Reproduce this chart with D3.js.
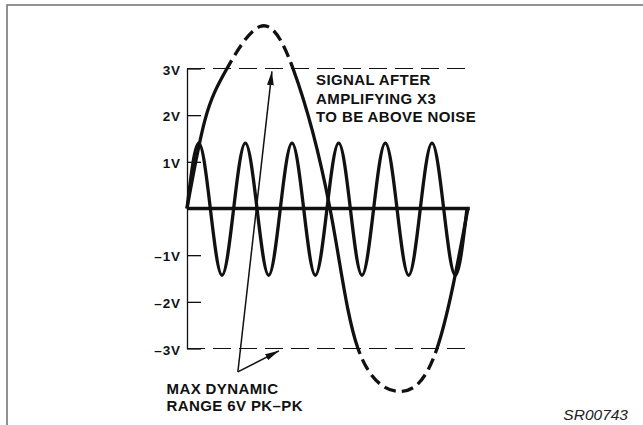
<!DOCTYPE html>
<html>
<head>
<meta charset="utf-8">
<script src="https://cdn.jsdelivr.net/npm/d3@7"></script>
<style>
  body { margin: 0; background: #fff; }
  svg { display: block; }
</style>
</head>
<body>
<svg id="chart" width="643" height="425"></svg>
<script>
var w = 643;
var h = 425;

// time in units of one small-wave cycle
var smallT = [0, 0.25, 0.5, 0.75, 1, 1.25, 1.5, 1.75, 2, 2.25, 2.5, 2.75, 3,
  3.25, 3.5, 3.75, 4, 4.25, 4.5, 4.75, 5, 5.25, 5.5, 5.75, 6];
var smallV = [0, 1.4, 0, -1.43, 0, 1.4, 0, -1.43, 0, 1.4, 0, -1.43, 0,
  1.4, 0, -1.43, 0, 1.4, 0, -1.43, 0, 1.4, 0, -1.43, 0];

// amplified signal
var bigT = [0, 0.386, 0.857, 1.564, 2.271, 3.064, 3.664, 4.564, 5.357, 6.02];
var bigV = [0, 1.9, 3, 3.9, 3, 0, -3, -3.92, -3, 0];

var tickVals = [3, 2, 1, -1, -2, -3];
var rangeLimits = [3, -3];
var noteLines = ["SIGNAL AFTER", "AMPLIFYING X3", "TO BE ABOVE NOISE"];
var rangeLines = ["MAX DYNAMIC", "RANGE 6V PK\u2013PK"];
var arrowBase = [1.09, -3.5];
var arrowTips = [[1.82, 2.94], [1.97, -3.05]];
var figId = "SR00743";

var svg = d3.select("#chart");
var ink = "#111";

var xScale = d3.scaleLinear().domain([0, 6]).range([187, 467]);
var yScale = d3.scaleLinear().domain([-3, 3]).range([348.5, 68.5]);

// outer frame
svg.append("rect")
  .attr("x", 7).attr("y", 5)
  .attr("width", w).attr("height", h)
  .attr("fill", "none")
  .attr("stroke", "#777")
  .attr("stroke-width", 1.6);

// clip areas: inside / outside the +-3V range
var defs = svg.append("defs");
defs.append("clipPath").attr("id", "inside")
  .append("rect")
  .attr("x", 0).attr("y", yScale(3))
  .attr("width", w).attr("height", yScale(-3) - yScale(3));
var outside = defs.append("clipPath").attr("id", "outside");
outside.append("rect").attr("x", 0).attr("y", 0)
  .attr("width", w).attr("height", yScale(3));
outside.append("rect").attr("x", 0).attr("y", yScale(-3))
  .attr("width", w).attr("height", h - yScale(-3));

defs.append("marker")
  .attr("id", "head")
  .attr("viewBox", "0 0 14 8")
  .attr("refX", 14).attr("refY", 4)
  .attr("markerWidth", 14).attr("markerHeight", 8)
  .attr("markerUnits", "userSpaceOnUse")
  .attr("orient", "auto")
  .append("path")
  .attr("d", "M0,0.6L14,4L0,7.4Z")
  .attr("fill", ink);

// y axis
var yAxis = d3.axisLeft(yScale)
  .tickValues(tickVals)
  .tickSizeInner(-14)
  .tickSizeOuter(0)
  .tickPadding(6)
  .tickFormat(function (d) {
    return (d < 0 ? "\u2013" : "") + Math.abs(d) + "V";
  });

var gy = svg.append("g")
  .attr("transform", "translate(" + xScale(0) + ",0)")
  .call(yAxis);
gy.select(".domain").attr("stroke", ink).attr("stroke-width", 1.3);
gy.selectAll(".tick line").attr("stroke", ink).attr("stroke-width", 1.3);
gy.selectAll(".tick text")
  .attr("fill", ink)
  .attr("dy", "0.42em")
  .style("font-family", "'Liberation Sans', Arial, sans-serif")
  .style("font-weight", "bold")
  .style("font-size", "13.5px")
  .style("letter-spacing", "0.9px");

// dashed limit lines
svg.selectAll("line.limit")
  .data(rangeLimits)
  .join("line")
  .attr("class", "limit")
  .attr("x1", xScale(0))
  .attr("x2", 473)
  .attr("y1", function (d) { return yScale(d); })
  .attr("y2", function (d) { return yScale(d); })
  .attr("stroke", ink)
  .attr("stroke-width", 1.2)
  .attr("stroke-dasharray", "18,8");

// zero line
svg.append("line")
  .attr("x1", xScale(0)).attr("x2", xScale(6.06))
  .attr("y1", yScale(0)).attr("y2", yScale(0))
  .attr("stroke", ink)
  .attr("stroke-width", 3.3);

var smallData = smallT.map(function (t, i) { return { t: t, v: smallV[i] }; });
var bigData = bigT.map(function (t, i) { return { t: t, v: bigV[i] }; });

var smallLine = d3.line()
  .x(function (d) { return xScale(d.t); })
  .y(function (d) { return yScale(d.v); })
  .curve(d3.curveNatural);

var bigLine = d3.line()
  .x(function (d) { return xScale(d.t); })
  .y(function (d) { return yScale(d.v); })
  .curve(d3.curveNatural);

svg.append("path")
  .datum(smallData)
  .attr("d", smallLine)
  .attr("fill", "none")
  .attr("stroke", ink)
  .attr("stroke-width", 3.3);

svg.append("path")
  .datum(bigData)
  .attr("d", bigLine)
  .attr("clip-path", "url(#inside)")
  .attr("fill", "none")
  .attr("stroke", ink)
  .attr("stroke-width", 3.3);

svg.append("path")
  .datum(bigData)
  .attr("d", bigLine)
  .attr("clip-path", "url(#outside)")
  .attr("fill", "none")
  .attr("stroke", ink)
  .attr("stroke-width", 3.3)
  .attr("stroke-dasharray", "12,6");

// arrows
svg.selectAll("line.arrow")
  .data(arrowTips)
  .join("line")
  .attr("class", "arrow")
  .attr("x1", xScale(arrowBase[0]))
  .attr("y1", yScale(arrowBase[1]))
  .attr("x2", function (d) { return xScale(d[0]); })
  .attr("y2", function (d) { return yScale(d[1]); })
  .attr("stroke", ink)
  .attr("stroke-width", 1.5)
  .attr("marker-end", "url(#head)");

function addBlock(lines, x, y0, step) {
  svg.append("text")
    .attr("x", x)
    .attr("y", y0)
    .attr("fill", ink)
    .style("font-family", "'Liberation Sans', Arial, sans-serif")
    .style("font-weight", "bold")
    .style("font-size", "15px")
    .style("letter-spacing", "0.4px")
    .selectAll("tspan")
    .data(lines)
    .join("tspan")
    .attr("x", x)
    .attr("dy", function (d, i) { return i === 0 ? 0 : step; })
    .text(function (d) { return d; });
}

addBlock(noteLines, 316, 85, 18.5);
addBlock(rangeLines, 166.5, 393.5, 17.5);

svg.append("text")
  .attr("x", 628)
  .attr("y", 419.5)
  .attr("text-anchor", "end")
  .attr("fill", "#222")
  .style("font-family", "'Liberation Sans', Arial, sans-serif")
  .style("font-style", "italic")
  .style("font-size", "15.5px")
  .text(figId);
</script>
</body>
</html>
